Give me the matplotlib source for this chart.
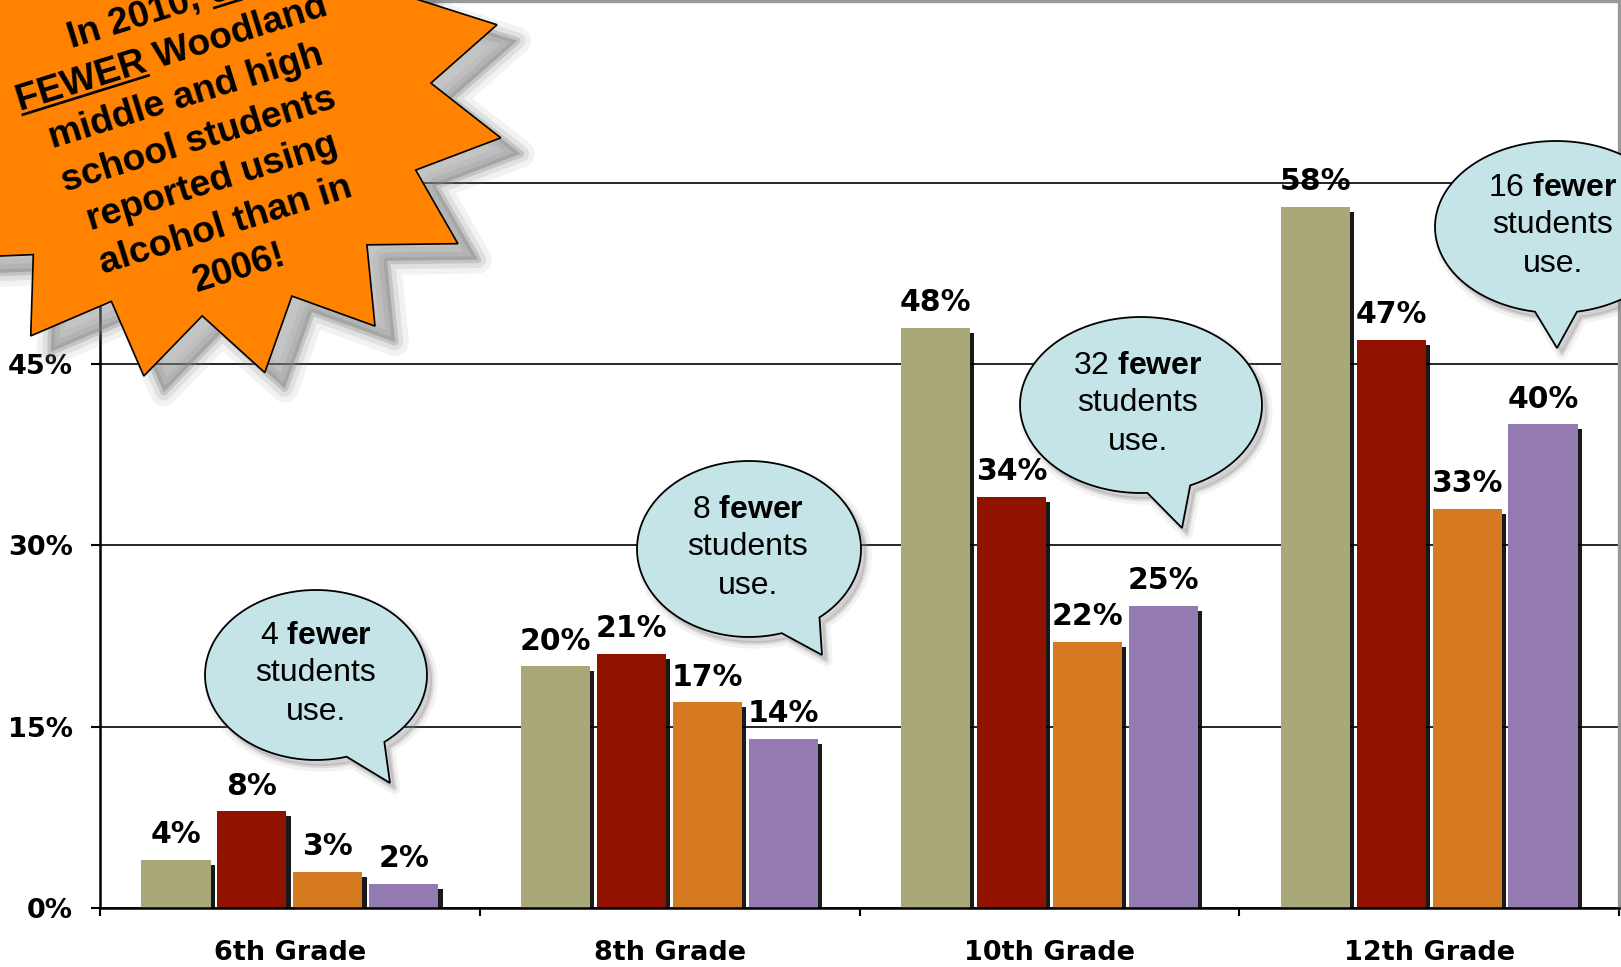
import numpy as np
import matplotlib
matplotlib.use("Agg")
from matplotlib import pyplot as plt
from matplotlib import patheffects as pe
from matplotlib.patches import Polygon
from matplotlib.textpath import TextToPath
from matplotlib.font_manager import FontProperties

grades = ["6th Grade", "8th Grade", "10th Grade", "12th Grade"]
# four survey bars per grade, left to right
survey_1 = [4, 20, 48, 58]
survey_2 = [8, 21, 34, 47]
survey_3 = [3, 17, 22, 33]
survey_4 = [2, 14, 25, 40]
fewer_students = [4, 8, 32, 16]
y_ticks = [0, 15, 30, 45, 60, 75]

series = [survey_1, survey_2, survey_3, survey_4]
colors = ["#A9A878", "#921200", "#D67A21", "#937BB1"]

plt.rcParams["mathtext.fontset"] = "custom"
plt.rcParams["mathtext.rm"] = "Liberation Sans"
plt.rcParams["mathtext.bf"] = "Liberation Sans:bold"

W, H = 1621, 967
fig = plt.figure(figsize=(W / 100, H / 100), dpi=100)
ax = fig.add_axes([100 / W, 59 / H, 1519 / W, 906.7 / H])

# bars
bar_w = 0.182
shadow = [pe.SimplePatchShadow(offset=(3, -3.5), shadow_rgbFace="black", alpha=0.9), pe.Normal()]
for j, vals in enumerate(series):
    x = np.arange(len(grades)) + 0.5 + (j - 1.5) * 0.2
    bars = ax.bar(x, vals, width=bar_w, color=colors[j], zorder=2, path_effects=shadow)
    for b, v in zip(bars, vals):
        ax.annotate(f"{v}%", (b.get_x() + b.get_width() / 2, v), xytext=(0, 12),
                    textcoords="offset points", ha="center", va="baseline",
                    fontsize=21.5, fontweight="bold", zorder=4)

ax.set_xlim(0, len(grades))
ax.set_ylim(0, 75)
ax.set_yticks(y_ticks)
ax.set_yticklabels([f"{t}%" for t in y_ticks], fontsize=19.5, fontweight="bold")
ax.tick_params(axis="y", direction="out", length=6.5, width=1.5, pad=13)
ax.set_xticks(range(len(grades) + 1))
ax.set_xticklabels([])
ax.set_xticks(np.arange(len(grades)) + 0.5, minor=True)
ax.set_xticklabels(grades, minor=True, fontsize=19.5, fontweight="bold")
ax.tick_params(axis="x", which="major", direction="out", length=6, width=1.5)
ax.tick_params(axis="x", which="minor", length=0, pad=23)

ax.yaxis.grid(True, color="black", lw=1.2)
ax.set_axisbelow(True)
for s in ["left", "bottom"]:
    ax.spines[s].set_linewidth(1.8)
for s in ["top", "right"]:
    ax.spines[s].set_color("#999999")
    ax.spines[s].set_linewidth(2.4)

# overlay in pixel coordinates for the call-outs
ov = fig.add_axes([0, 0, 1, 1], zorder=5)
ov.set_xlim(0, W)
ov.set_ylim(H, 0)
ov.axis("off")

# starburst (16 points, slightly wider than tall)
cx, cy = 195, 90
k = np.arange(32)
ang = np.radians(9.5 + k * 11.25)
rx = np.where(k % 2 == 0, 310, 236)
ry = np.where(k % 2 == 0, 290, 226)
star = np.column_stack([cx + rx * np.cos(ang), cy + ry * np.sin(ang)])
for lw, a in [(20, 0.1), (12, 0.16), (5, 0.3)]:
    ov.add_patch(Polygon(star + [20, 16], closed=True, fc="#858585", ec="#858585",
                         lw=lw, alpha=a, joinstyle="round"))
ov.add_patch(Polygon(star, closed=True, fc="#FF8300", ec="black", lw=1.2))

star_lines = ["In 2010, 60", "FEWER Woodland", "middle and high", "school students",
              "reported using", "alcohol than in", "2006!"]
theta = np.radians(17.3)
u = np.array([np.cos(theta), -np.sin(theta)])
n = np.array([np.sin(theta), np.cos(theta)])
c0 = np.array([199, 140])
fs = 26.8
fp = FontProperties(family="Liberation Sans", weight="bold", size=fs)
ttp = TextToPath()


def width_px(s):
    return ttp.get_text_width_height_descent(s, fp, ismath=False)[0] * 100 / 72


for i, line in enumerate(star_lines):
    p = c0 + (i - 3) * 45 * n
    ov.text(p[0], p[1], line, fontproperties=fp, rotation=17.3, rotation_mode="anchor",
            ha="center", va="center")
    total = width_px(line)
    if i == 0:
        a0, a1 = total / 2 - width_px("60"), total / 2
    elif i == 1:
        a0, a1 = -total / 2, -total / 2 + width_px("FEWER")
    else:
        continue
    base = p + 0.36 * fs * 100 / 72 * n
    q0, q1 = base + a0 * u, base + a1 * u
    ov.plot([q0[0], q1[0]], [q0[1], q1[1]], color="black", lw=1.9, solid_capstyle="butt")

# speech bubbles: ellipse centre, radii, tail base angles, tail tip, text centre x
bubbles = [
    (316, 675, 111, 85, 74, 52, (390, 783), 316),
    (749, 549, 112, 88, 73, 51, (822, 655), 748),
    (1141, 405, 121, 88, 87, 66, (1182, 528), 1138),
    (1556, 227, 121, 86, 100, 80, (1557, 348), 1553),
]
for (bx, by, erx, ery, ta, tb, tip, tx), num in zip(bubbles, fewer_students):
    t = np.radians(np.linspace(ta, tb + 360, 160))
    pts = np.vstack([np.column_stack([bx + erx * np.cos(t), by + ery * np.sin(t)]), tip])
    for lw, a in [(8, 0.1), (3, 0.2)]:
        ov.add_patch(Polygon(pts + [5, 6], closed=True, fc="#808080", ec="#808080",
                             lw=lw, alpha=a, joinstyle="round"))
    ov.add_patch(Polygon(pts, closed=True, fc="#C4E4E7", ec="black", lw=1.3))
    for dy, s in zip([-31, 6, 45], [f"{num} $\\mathbf{{fewer}}$", "students", "use."]):
        ov.text(tx, by + dy, s, family="Liberation Sans", fontsize=23,
                ha="center", va="baseline")

fig.savefig("out.png", dpi=100)
